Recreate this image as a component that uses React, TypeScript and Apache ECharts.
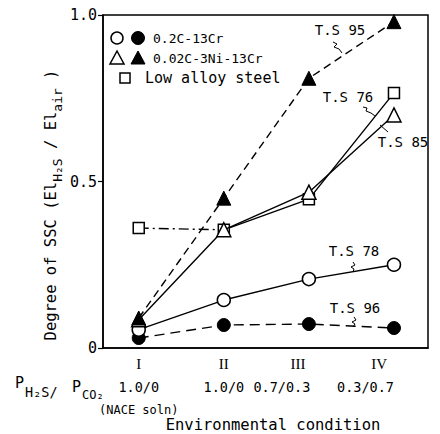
import React, { useEffect, useRef } from "react";
import * as echarts from "echarts";

const conditions = ["I", "II", "III", "IV"];
const ratios = ["1.0/0", "1.0/0", "0.7/0.3", "0.3/0.7"];
const xPositions = [1, 2, 3, 4];
const yTicks = [0, 0.5, 1.0];

// 0.2C-13Cr
const openCircleTS78 = [0.055, 0.144, 0.207, 0.25];
const filledCircleTS96 = [0.03, 0.069, 0.072, 0.06];
// 0.02C-3Ni-13Cr
const openTriangleTS85 = [0.085, 0.355, 0.468, 0.7];
const filledTriangleTS95 = [0.09, 0.45, 0.81, 0.98];
// Low alloy steel
const squareTS76 = [0.36, 0.355, 0.447, 0.766];

const MONO = "DejaVu Sans Mono";
const SERIF = "Liberation Serif";

const pts = (vals: number[]) => vals.map((v, i) => [xPositions[i], v]);

export default function App() {
  const ref = useRef<HTMLDivElement>(null);
  useEffect(() => {
    if (!ref.current) return;
    document.body.style.margin = "0";
    const chart = echarts.init(ref.current, null, { renderer: "svg" });
    const black = "#000";
    const lineBase = { color: black, width: 1.4 };
    const open = { color: "#fff", borderColor: black, borderWidth: 1.5 };
    const filled = { color: black, borderColor: black, borderWidth: 1 };

    const gridRect = { left: 103, right: 12, top: 15, bottom: 86 };
    // per-category label layout: [align, roman right padding, ratio right padding]
    const labelLayout: [string, number, number][] = [
      ["center", 0, 0],
      ["center", 0, 0],
      ["center", 22, 54],
      ["right", 7, 0],
    ];

    const labelCfg = (values: number[]) => {
      const [align, pr, pm] = labelLayout[values[0] - 1];
      return {
        customValues: values,
        showMinLabel: true,
        showMaxLabel: true,
        hideOverlap: false,
        margin: 8,
        align,
        color: black,
        formatter: (v: number) => {
          const i = Math.round(v) - 1;
          if (i < 0 || i > 3) return "";
          let s = `{r|${conditions[i]}}\n{m|${ratios[i]}}`;
          if (i === 0) s += `\n{s|(NACE soln)}`;
          return s;
        },
        rich: {
          r: { fontFamily: SERIF, fontSize: 15, lineHeight: 16, color: black, padding: [0, pr, 0, 0] },
          m: { fontFamily: MONO, fontSize: 13.5, lineHeight: 30, color: black, padding: [0, pm, 0, 0] },
          s: { fontFamily: MONO, fontSize: 12, lineHeight: 16, color: black },
        },
      };
    };

    const labelAxis = (gridIndex: number, values: number[]) => ({
      type: "value",
      gridIndex,
      min: 0.58,
      max: 4.4,
      splitLine: { show: false },
      axisTick: { show: false },
      axisLine: { show: gridIndex === 0, lineStyle: { color: black, width: 1.5 } },
      axisLabel: labelCfg(values),
    });

    const squiggle = (pp: number[][]) => ({
      type: "polyline",
      shape: { points: pp },
      style: { stroke: black, lineWidth: 1, fill: null },
      silent: true,
    });
    const label = (text: string, x: number, y: number, size = 14, font = MONO, align = "center") => ({
      type: "text",
      x,
      y,
      style: { text, fontFamily: font, fontSize: size, fill: black, align, verticalAlign: "middle" },
      silent: true,
    });

    chart.setOption({
      animation: false,
      backgroundColor: "#fff",
      grid: [
        { ...gridRect, show: true, borderColor: black, borderWidth: 1.5 },
        { ...gridRect, show: false },
        { ...gridRect, show: false },
      ],
      xAxis: [labelAxis(0, [1, 2]), labelAxis(1, [3]), labelAxis(2, [4])],
      yAxis: [
        {
          type: "value",
          min: 0,
          max: 1,
          interval: 0.5,
          splitLine: { show: false },
          axisLine: { show: true, lineStyle: { color: black, width: 1.5 } },
          axisTick: { show: true, length: 5, lineStyle: { color: black, width: 1.2 } },
          axisLabel: {
            margin: 6,
            color: black,
            fontFamily: MONO,
            fontSize: 15,
            formatter: (v: number) => (yTicks.includes(v) ? (v === 0 ? "0" : v.toFixed(1)) : ""),
          },
        },
        { type: "value", gridIndex: 1, min: 0, max: 1, show: false },
        { type: "value", gridIndex: 2, min: 0, max: 1, show: false },
      ],
      series: [
        {
          name: "0.2C-13Cr TS96",
          type: "line",
          data: pts(filledCircleTS96),
          symbol: "circle",
          symbolSize: 13,
          lineStyle: { ...lineBase, type: [10, 6] },
          itemStyle: filled,
          z: 2,
        },
        {
          name: "0.2C-13Cr TS78",
          type: "line",
          data: pts(openCircleTS78),
          symbol: "circle",
          symbolSize: 13,
          lineStyle: { ...lineBase },
          itemStyle: open,
          z: 3,
        },
        {
          name: "Low alloy steel I-II",
          type: "line",
          data: pts(squareTS76).slice(0, 2),
          symbol: "none",
          lineStyle: { ...lineBase, type: [10, 4, 2, 4] },
          z: 3,
        },
        {
          name: "Low alloy steel TS76",
          type: "line",
          data: pts(squareTS76),
          symbol: "rect",
          symbolSize: 11,
          lineStyle: { ...lineBase, width: 0 },
          itemStyle: open,
          z: 4,
        },
        {
          name: "Low alloy steel II-IV",
          type: "line",
          data: pts(squareTS76).slice(1),
          symbol: "none",
          lineStyle: { ...lineBase },
          z: 3,
        },
        {
          name: "0.02C-3Ni-13Cr TS85",
          type: "line",
          data: pts(openTriangleTS85),
          symbol: "triangle",
          symbolSize: 14,
          lineStyle: { ...lineBase },
          itemStyle: open,
          z: 5,
        },
        {
          name: "0.02C-3Ni-13Cr TS95",
          type: "line",
          data: pts(filledTriangleTS95),
          symbol: "triangle",
          symbolSize: 14,
          lineStyle: { ...lineBase, type: [8, 5] },
          itemStyle: filled,
          z: 6,
        },
      ],
      graphic: [
        // legend
        { type: "circle", shape: { cx: 117, cy: 38, r: 6 }, style: { fill: "#fff", stroke: black, lineWidth: 1.5 } },
        { type: "circle", shape: { cx: 138, cy: 38, r: 6.5 }, style: { fill: black, stroke: black } },
        { type: "polygon", shape: { points: [[117, 51], [110, 64], [124, 64]] }, style: { fill: "#fff", stroke: black, lineWidth: 1.5 } },
        { type: "polygon", shape: { points: [[138, 51], [131, 64], [145, 64]] }, style: { fill: black, stroke: black } },
        { type: "rect", shape: { x: 120, y: 73, width: 10, height: 10 }, style: { fill: "#fff", stroke: black, lineWidth: 1.5 } },
        label("0.2C-13Cr", 153, 38, 13, MONO, "left"),
        label("0.02C-3Ni-13Cr", 153, 58, 13, MONO, "left"),
        label("Low alloy steel", 145, 78, 15, MONO, "left"),
        // annotations
        label("T.S 95", 340, 30, 14),
        squiggle([[333, 42], [337, 44], [334, 47], [339, 49], [342, 53]]),
        label("T.S 76", 348, 97, 14),
        squiggle([[363, 107], [367, 108], [366, 111], [371, 113], [375, 116]]),
        label("T.S 85", 403, 142, 14),
        squiggle([[388, 132], [380, 125]]),
        label("T.S 78", 354, 251, 14),
        squiggle([[353, 262], [355, 265], [351, 267], [354, 269], [353, 272]]),
        label("T.S 96", 355, 308, 14),
        squiggle([[354, 317], [356, 320], [352, 322], [355, 324], [353, 327]]),
        // y axis title
        {
          type: "text",
          x: 51,
          y: 205,
          rotation: Math.PI / 2,
          style: {
            text: "{a|Degree of SSC (El}{s|H₂S}{a| / El}{s|air}{a| )}",
            align: "center",
            verticalAlign: "middle",
            rich: {
              a: { fontFamily: MONO, fontSize: 15.5, lineHeight: 26, fill: black, color: black, verticalAlign: "middle" },
              s: { fontFamily: MONO, fontSize: 13, lineHeight: 26, fill: black, color: black, verticalAlign: "bottom" },
            },
          },
          silent: true,
        },
        // x row title
        label("P", 15, 383, 15, MONO, "left"),
        label("H₂S/", 25, 392, 13.5, MONO, "left"),
        label("P", 72, 387, 15, MONO, "left"),
        label("CO₂", 82, 395, 12, MONO, "left"),
        label("Environmental condition", 273, 425, 15.5),
      ],
    });
    return () => chart.dispose();
  }, []);
  return <div ref={ref} style={{ width: 440, height: 434 }} />;
}
